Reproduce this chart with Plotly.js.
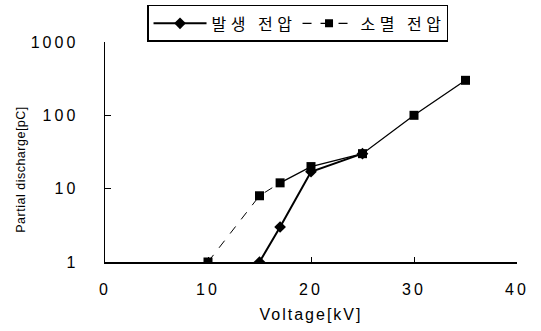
<!DOCTYPE html>
<html><head><meta charset="utf-8">
<script src="https://cdn.plot.ly/plotly-3.0.1.min.js"></script>
<style>
body{margin:0;background:#fff}
.xtick text,.ytick text{letter-spacing:3px}
.xtitle{letter-spacing:2px}
.legendtext{letter-spacing:4.5px}
.annotation-text{letter-spacing:0.5px}
</style>
</head><body>
<div id="chart" style="width:541px;height:331px"></div>
<script>
const inceptionV = [15, 17, 20, 25];
const inceptionPC = [1, 3, 17, 30];
const extinctionV = [10, 15, 17, 20, 25, 30, 35];
const extinctionPC = [1, 8, 12, 20, 30, 100, 300];
const seriesNames = ['발생 전압', '소멸 전압'];
const xTicks = [0, 10, 20, 30, 40];
const yTicks = [1, 10, 100, 1000];

const font = {family: 'Liberation Sans, Arial, sans-serif', color: '#000'};
const traces = [
  {x: extinctionV.slice(0, 3), y: extinctionPC.slice(0, 3), mode: 'lines', showlegend: false,
   line: {color: '#000', width: 1, dash: 'dash'}, hoverinfo: 'skip'},
  {x: extinctionV.slice(2), y: extinctionPC.slice(2), mode: 'lines', showlegend: false,
   line: {color: '#000', width: 1.3}, hoverinfo: 'skip'},
  {x: inceptionV, y: inceptionPC, mode: 'lines+markers', name: seriesNames[0],
   line: {color: '#000', width: 2}, marker: {symbol: 'diamond', size: 9, color: '#000'}},
  {x: extinctionV, y: extinctionPC, mode: 'markers', name: seriesNames[1], showlegend: false,
   marker: {symbol: 'square', size: 9, color: '#000'}},
  {x: [null], y: [null], mode: 'lines+markers', name: seriesNames[1],
   line: {color: '#000', width: 1.3, dash: 'dash'}, marker: {symbol: 'square', size: 8, color: '#000'}}
];
const layout = {
  width: 541, height: 331,
  margin: {l: 105, r: 24, t: 40, b: 69},
  paper_bgcolor: '#fff', plot_bgcolor: '#fff',
  font: font,
  xaxis: {range: [0, 40], tickvals: xTicks, ticktext: xTicks.map(String),
    showline: true, linecolor: '#000', linewidth: 1.5, ticks: 'inside', ticklen: 5, tickcolor: '#000',
    showgrid: false, zeroline: false, tickfont: {size: 16, family: font.family},
    ticklabelstandoff: 12,
    title: {text: 'Voltage[kV]', font: {size: 16}, standoff: 12}},
  yaxis: {type: 'log', range: [0, 3], tickvals: yTicks, ticktext: yTicks.map(String),
    showline: true, linecolor: '#000', linewidth: 1.5, ticks: 'inside', ticklen: 6, tickcolor: '#000',
    showgrid: false, zeroline: false, tickfont: {size: 16, family: font.family},
    ticklabelstandoff: 22},
  annotations: [{text: 'Partial discharge[pC]', textangle: -90, showarrow: false,
    xref: 'paper', yref: 'paper', x: -0.206, y: 0.42, xanchor: 'center', yanchor: 'middle',
    font: {size: 12.5, family: font.family, color: '#000'}}],
  legend: {orientation: 'h', x: 0.102, xanchor: 'left', y: 0.985, yanchor: 'top', yref: 'container',
    bordercolor: '#000', borderwidth: 1.5, bgcolor: '#fff',
    entrywidth: 81, entrywidthmode: 'pixels',
    font: {family: 'Noto Sans CJK KR, sans-serif', size: 16}, itemwidth: 53, tracegroupgap: 0}
};
Plotly.newPlot('chart', traces, layout, {staticPlot: true});
</script>
</body></html>
